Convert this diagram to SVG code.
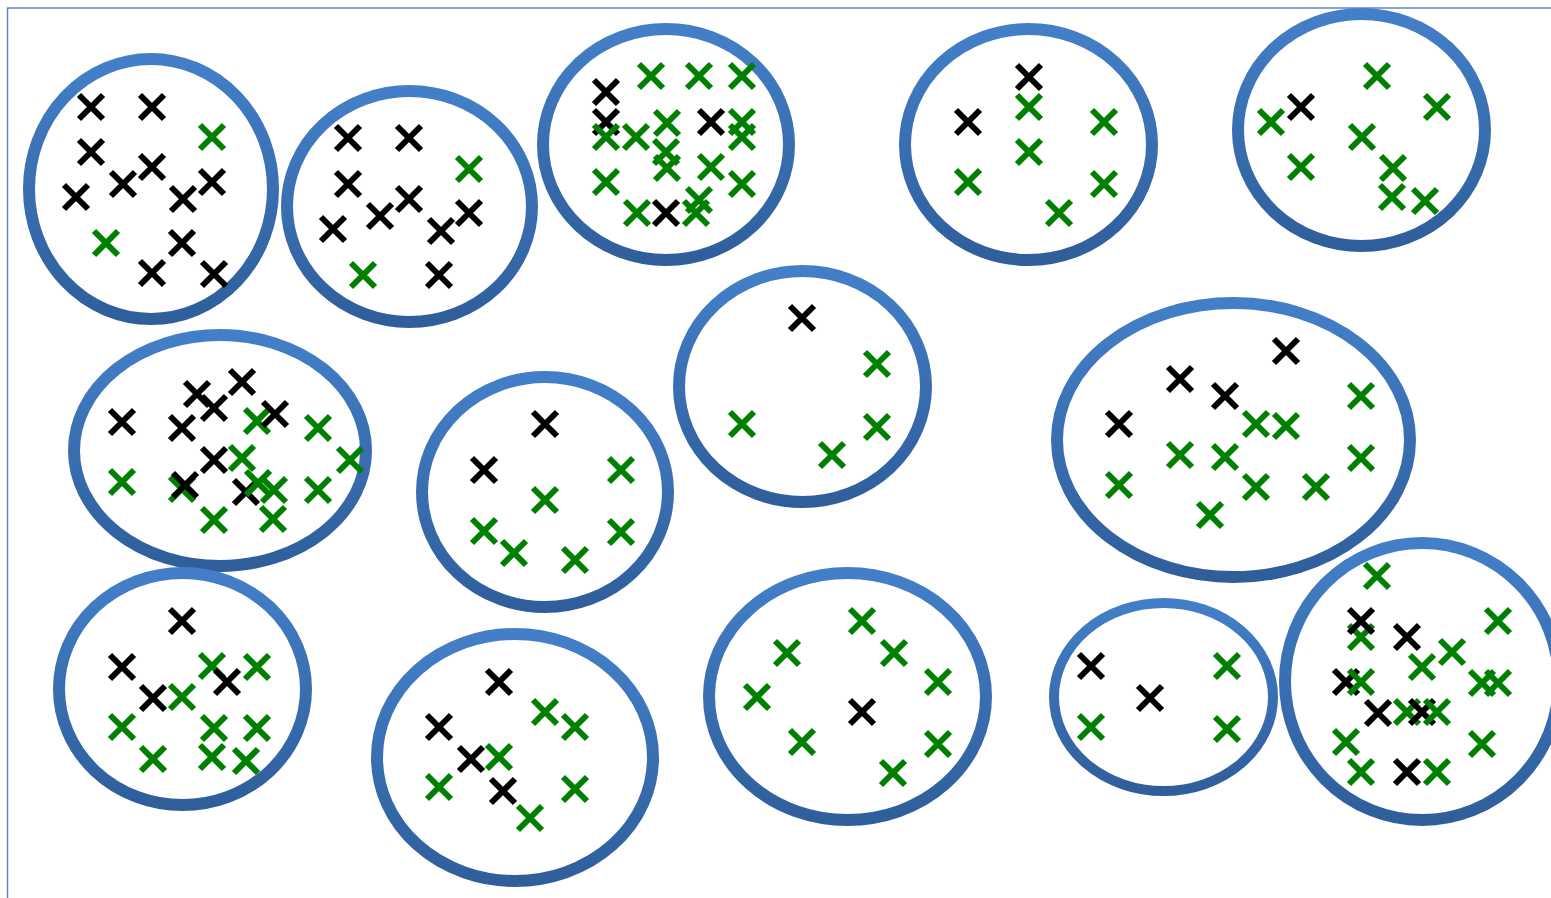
<svg xmlns="http://www.w3.org/2000/svg" xmlns:xlink="http://www.w3.org/1999/xlink" width="1551" height="898" viewBox="0 0 1551 898">
<defs>
<linearGradient id="ring" x1="0" y1="0" x2="0" y2="1">
<stop offset="0" stop-color="#437FC8"/>
<stop offset="1" stop-color="#2F5E9B"/>
</linearGradient>
<path id="x" d="M-12,-12L12,12M12,-12L-12,12"/>
</defs>
<style>
.frame{fill:none;stroke:#5B87C6;stroke-width:1.5}
.ring{fill:none;stroke:url(#ring);stroke-width:12}
.thin{stroke-width:10}
.b{stroke:#000;stroke-width:6;fill:none}
.g{stroke:#008000;stroke-width:6;fill:none}
</style>
<rect class="frame" x="7.5" y="8" width="1600" height="1000"/>
<g id="cluster1">
<ellipse class="ring" cx="151" cy="189" rx="122" ry="130"/>
<use href="#x" class="b" x="91" y="107"/><use href="#x" class="b" x="152" y="107"/><use href="#x" class="g" x="212" y="137"/>
<use href="#x" class="b" x="91" y="152"/><use href="#x" class="b" x="152" y="167"/><use href="#x" class="b" x="123" y="184"/>
<use href="#x" class="b" x="212" y="182"/><use href="#x" class="b" x="76" y="197"/><use href="#x" class="b" x="183" y="199"/>
<use href="#x" class="g" x="106" y="243"/><use href="#x" class="b" x="182" y="243"/><use href="#x" class="b" x="152" y="273"/>
<use href="#x" class="b" x="214" y="274"/>
</g>
<g id="cluster2">
<ellipse class="ring" cx="409.5" cy="206.5" rx="122.5" ry="115.5"/>
<use href="#x" class="b" x="348" y="138"/><use href="#x" class="b" x="409" y="138"/><use href="#x" class="g" x="469" y="169"/>
<use href="#x" class="b" x="348" y="184"/><use href="#x" class="b" x="409" y="199"/><use href="#x" class="b" x="380" y="216"/>
<use href="#x" class="b" x="469" y="213"/><use href="#x" class="b" x="333" y="229"/><use href="#x" class="b" x="441" y="231"/>
<use href="#x" class="g" x="363" y="275"/><use href="#x" class="b" x="439" y="275"/>
</g>
<g id="cluster3">
<ellipse class="ring" cx="666" cy="144.5" rx="123" ry="115.5"/>
<use href="#x" class="b" x="606" y="92"/><use href="#x" class="b" x="606" y="122"/>
<use href="#x" class="g" x="651" y="76"/><use href="#x" class="g" x="699" y="76"/><use href="#x" class="g" x="742" y="76"/>
<use href="#x" class="g" x="606" y="137"/><use href="#x" class="g" x="636" y="137"/><use href="#x" class="g" x="667" y="123"/>
<use href="#x" class="b" x="711" y="122"/><use href="#x" class="g" x="742" y="122"/><use href="#x" class="g" x="742" y="137"/>
<use href="#x" class="g" x="666" y="152"/><use href="#x" class="g" x="667" y="168"/><use href="#x" class="g" x="711" y="167"/>
<use href="#x" class="g" x="606" y="182"/><use href="#x" class="g" x="742" y="184"/><use href="#x" class="g" x="637" y="213"/>
<use href="#x" class="b" x="666" y="213"/><use href="#x" class="g" x="699" y="200"/><use href="#x" class="g" x="696" y="213"/>
</g>
<g id="cluster4">
<ellipse class="ring" cx="1028.5" cy="144.5" rx="123.5" ry="115.5"/>
<use href="#x" class="b" x="1029" y="77"/><use href="#x" class="g" x="1029" y="107"/><use href="#x" class="b" x="968" y="122"/>
<use href="#x" class="g" x="1104" y="122"/><use href="#x" class="g" x="1029" y="152"/><use href="#x" class="g" x="968" y="182"/>
<use href="#x" class="g" x="1104" y="184"/><use href="#x" class="g" x="1059" y="213"/>
</g>
<g id="cluster5">
<ellipse class="ring" cx="1361.5" cy="130" rx="123.5" ry="116"/>
<use href="#x" class="g" x="1377" y="76"/><use href="#x" class="b" x="1301" y="107"/><use href="#x" class="g" x="1437" y="107"/>
<use href="#x" class="g" x="1271" y="122"/><use href="#x" class="g" x="1362" y="137"/><use href="#x" class="g" x="1301" y="167"/>
<use href="#x" class="g" x="1393" y="168"/><use href="#x" class="g" x="1392" y="197"/><use href="#x" class="g" x="1425" y="201"/>
</g>
<g id="cluster6">
<ellipse class="ring" cx="220" cy="450.5" rx="146" ry="115.5"/>
<use href="#x" class="b" x="197" y="394"/><use href="#x" class="b" x="242" y="382"/><use href="#x" class="b" x="214" y="408"/>
<use href="#x" class="b" x="122" y="422"/><use href="#x" class="b" x="182" y="428"/><use href="#x" class="g" x="257" y="421"/>
<use href="#x" class="b" x="275" y="414"/><use href="#x" class="g" x="318" y="428"/><use href="#x" class="b" x="214" y="460"/>
<use href="#x" class="g" x="242" y="458"/><use href="#x" class="g" x="350" y="460"/><use href="#x" class="g" x="122" y="482"/>
<use href="#x" class="g" x="182" y="489"/><use href="#x" class="b" x="185" y="485"/><use href="#x" class="b" x="246" y="492"/>
<use href="#x" class="g" x="258" y="483"/><use href="#x" class="g" x="274" y="490"/><use href="#x" class="g" x="318" y="490"/>
<use href="#x" class="g" x="214" y="520"/><use href="#x" class="g" x="273" y="519"/>
</g>
<g id="cluster7">
<ellipse class="ring" cx="545" cy="492" rx="123" ry="115"/>
<use href="#x" class="b" x="545" y="424"/><use href="#x" class="b" x="484" y="470"/><use href="#x" class="g" x="621" y="470"/>
<use href="#x" class="g" x="545" y="500"/><use href="#x" class="g" x="484" y="531"/><use href="#x" class="g" x="514" y="553"/>
<use href="#x" class="g" x="575" y="560"/><use href="#x" class="g" x="621" y="532"/>
</g>
<g id="cluster8">
<ellipse class="ring" cx="802.5" cy="386.5" rx="123.5" ry="115.5"/>
<use href="#x" class="b" x="802" y="318"/><use href="#x" class="g" x="877" y="364"/><use href="#x" class="g" x="877" y="427"/>
<use href="#x" class="g" x="832" y="455"/><use href="#x" class="g" x="742" y="424"/>
</g>
<g id="cluster9">
<ellipse class="ring" cx="1233.5" cy="440" rx="176.5" ry="137"/>
<use href="#x" class="b" x="1286" y="351"/><use href="#x" class="b" x="1180" y="379"/><use href="#x" class="b" x="1225" y="396"/>
<use href="#x" class="g" x="1361" y="396"/><use href="#x" class="b" x="1119" y="424"/><use href="#x" class="g" x="1256" y="424"/>
<use href="#x" class="g" x="1286" y="426"/><use href="#x" class="g" x="1180" y="455"/><use href="#x" class="g" x="1225" y="457"/>
<use href="#x" class="g" x="1361" y="458"/><use href="#x" class="g" x="1119" y="485"/><use href="#x" class="g" x="1256" y="487"/>
<use href="#x" class="g" x="1316" y="487"/><use href="#x" class="g" x="1210" y="515"/>
</g>
<g id="cluster10">
<ellipse class="ring" cx="182.5" cy="689" rx="123.5" ry="116"/>
<use href="#x" class="b" x="182" y="621"/><use href="#x" class="b" x="122" y="667"/><use href="#x" class="g" x="212" y="666"/>
<use href="#x" class="g" x="257" y="667"/><use href="#x" class="b" x="227" y="682"/><use href="#x" class="b" x="153" y="698"/>
<use href="#x" class="g" x="182" y="697"/><use href="#x" class="g" x="122" y="727"/><use href="#x" class="g" x="214" y="728"/>
<use href="#x" class="g" x="257" y="728"/><use href="#x" class="g" x="153" y="759"/><use href="#x" class="g" x="212" y="757"/>
<use href="#x" class="g" x="246" y="761"/>
</g>
<g id="cluster11">
<ellipse class="ring" cx="515" cy="757.5" rx="138" ry="123.5"/>
<use href="#x" class="b" x="499" y="682"/><use href="#x" class="g" x="545" y="712"/><use href="#x" class="g" x="575" y="727"/>
<use href="#x" class="b" x="439" y="727"/><use href="#x" class="b" x="471" y="759"/><use href="#x" class="g" x="499" y="757"/>
<use href="#x" class="g" x="439" y="787"/><use href="#x" class="b" x="503" y="791"/><use href="#x" class="g" x="575" y="789"/>
<use href="#x" class="g" x="530" y="818"/>
</g>
<g id="cluster12">
<ellipse class="ring" cx="847.5" cy="696.5" rx="138.5" ry="123.5"/>
<use href="#x" class="g" x="862" y="621"/><use href="#x" class="g" x="787" y="653"/><use href="#x" class="g" x="894" y="653"/>
<use href="#x" class="g" x="938" y="682"/><use href="#x" class="g" x="757" y="697"/><use href="#x" class="b" x="862" y="712"/>
<use href="#x" class="g" x="802" y="742"/><use href="#x" class="g" x="938" y="744"/><use href="#x" class="g" x="893" y="773"/>
</g>
<g id="cluster13">
<ellipse class="ring thin" cx="1163.5" cy="697" rx="109.5" ry="94"/>
<use href="#x" class="b" x="1091" y="666"/><use href="#x" class="g" x="1227" y="666"/><use href="#x" class="b" x="1150" y="698"/>
<use href="#x" class="g" x="1091" y="727"/><use href="#x" class="g" x="1227" y="729"/>
</g>
<g id="cluster14">
<ellipse class="ring" cx="1422" cy="681.5" rx="137" ry="138.5"/>
<use href="#x" class="g" x="1377" y="576"/><use href="#x" class="g" x="1361" y="637"/><use href="#x" class="b" x="1361" y="621"/>
<use href="#x" class="b" x="1407" y="637"/><use href="#x" class="g" x="1498" y="621"/><use href="#x" class="g" x="1452" y="652"/>
<use href="#x" class="g" x="1422" y="667"/><use href="#x" class="b" x="1346" y="682"/><use href="#x" class="g" x="1361" y="682"/>
<use href="#x" class="g" x="1482" y="683"/><use href="#x" class="g" x="1498" y="683"/><use href="#x" class="b" x="1378" y="713"/>
<use href="#x" class="g" x="1407" y="712"/><use href="#x" class="b" x="1422" y="712"/><use href="#x" class="g" x="1437" y="712"/>
<use href="#x" class="g" x="1346" y="742"/><use href="#x" class="g" x="1482" y="744"/><use href="#x" class="g" x="1361" y="772"/>
<use href="#x" class="b" x="1407" y="772"/><use href="#x" class="g" x="1437" y="772"/>
</g>
</svg>
